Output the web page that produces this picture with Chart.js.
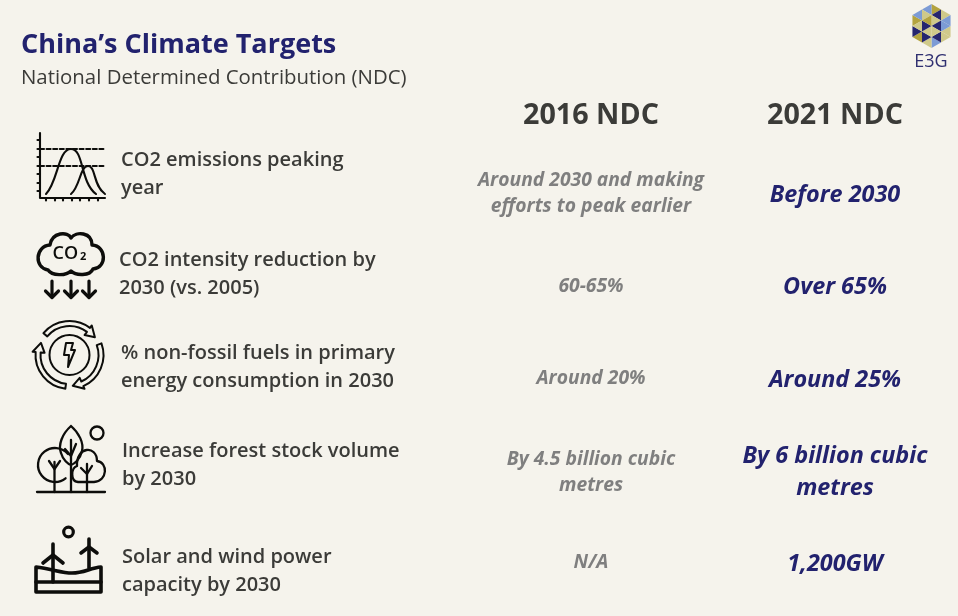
<!DOCTYPE html>
<html>
<head>
<meta charset="utf-8">
<title>China's Climate Targets</title>
<script src="https://cdn.jsdelivr.net/npm/chart.js@4"></script>
<style>
  html, body { margin: 0; padding: 0; background: #f5f3ec; }
  canvas { display: block; }
</style>
</head>
<body>
<canvas id="myChart" width="958" height="616"></canvas>
<script>
const columns = ['', '2016 NDC', '2021 NDC'];
const rows = ['Peak year', 'CO2 intensity', 'Non-fossil share', 'Forest stock', 'Solar and wind'];

const targetLabels = [
    ['CO2 emissions peaking', 'year'],
    ['CO2 intensity reduction by', '2030 (vs. 2005)'],
    ['% non-fossil fuels in primary', 'energy consumption in 2030'],
    ['Increase forest stock volume', 'by 2030'],
    ['Solar and wind power', 'capacity by 2030']
];
const ndc2016 = [
    ['Around 2030 and making', 'efforts to peak earlier'],
    ['60-65%'],
    ['Around 20%'],
    ['By 4.5 billion cubic', 'metres'],
    ['N/A']
];
const ndc2021 = [
    ['Before 2030'],
    ['Over 65%'],
    ['Around 25%'],
    ['By 6 billion cubic', 'metres'],
    ['1,200GW']
];

const FONT = '"Open Sans", "Noto Sans", sans-serif';
const NAVY = '#22226e';
const DARK = '#3b3b38';
const GREY = '#7f7f7f';
const INK = '#0d0d0b';

// small per-row nudges, the slide was not quite on a grid
const targetNudge = [[-226, -19], [-228, -11], [-226, -10], [-225, -4], [-225, 9]];
const nudge2016 = [[0, 1], [0, 1], [0, 1], [0, 3], [0, 1]];
const nudge2021 = [[0, 2], [0, 2], [0, 3], [0, 3], [0, 2]];

function line(ctx, pts) {
    ctx.beginPath();
    ctx.moveTo(pts[0], pts[1]);
    for (let i = 2; i < pts.length; i += 2) ctx.lineTo(pts[i], pts[i + 1]);
    ctx.stroke();
}

function drawPeakIcon(ctx) {
    ctx.lineWidth = 2.1;
    line(ctx, [40, 133, 40, 198, 105, 198]);
    [140, 149, 157, 166, 174, 183, 191].forEach(y => line(ctx, [37.5, y, 40, y]));
    [46, 55, 63, 72, 80, 89, 98].forEach(x => line(ctx, [x, 198, x, 200.5]));
    ctx.setLineDash([4, 2.6]);
    line(ctx, [40, 149, 105, 149]);
    line(ctx, [40, 166, 105, 166]);
    ctx.setLineDash([]);
    ctx.beginPath();
    ctx.moveTo(46, 194);
    ctx.bezierCurveTo(58, 182, 58, 149, 71, 149);
    ctx.bezierCurveTo(84, 149, 80, 182, 96, 194);
    ctx.moveTo(71, 194);
    ctx.bezierCurveTo(80, 187, 80, 166, 88, 166);
    ctx.bezierCurveTo(96, 166, 93, 186, 105, 194);
    ctx.stroke();
}

function drawCloudIcon(ctx) {
    ctx.lineWidth = 3.4;
    ctx.beginPath();
    ctx.moveTo(48, 270);
    ctx.bezierCurveTo(34, 268, 35, 246, 50, 245);
    ctx.bezierCurveTo(52, 232, 68, 231, 71, 238);
    ctx.bezierCurveTo(76, 231, 92, 232, 92, 245);
    ctx.bezierCurveTo(107, 246, 107, 268, 93, 269);
    ctx.bezierCurveTo(90, 276, 76, 276, 71, 271);
    ctx.bezierCurveTo(66, 276, 52, 276, 48, 270);
    ctx.stroke();
    ctx.fillStyle = INK;
    ctx.textAlign = 'left';
    ctx.textBaseline = 'middle';
    ctx.font = '600 18px ' + FONT;
    ctx.fillText('CO', 52.5, 254);
    ctx.font = 'bold 11px ' + FONT;
    ctx.fillText('2', 80, 256.5);
    ctx.lineWidth = 3.2;
    [52, 71, 89].forEach(x => {
        line(ctx, [x, 281, x, 297]);
        line(ctx, [x - 6.5, 291, x, 297.5, x + 6.5, 291]);
    });
}

function arrowBand(ctx, cx, cy, from, to, tipTo) {
    const a = from * Math.PI / 180, b = to * Math.PI / 180, tip = tipTo * Math.PI / 180;
    ctx.beginPath();
    ctx.arc(cx, cy, 34, a, b);
    ctx.lineTo(cx + 37 * Math.cos(b), cy + 37 * Math.sin(b));
    ctx.lineTo(cx + 31 * Math.cos(tip), cy + 31 * Math.sin(tip));
    ctx.lineTo(cx + 25 * Math.cos(b), cy + 25 * Math.sin(b));
    ctx.lineTo(cx + 29 * Math.cos(b), cy + 29 * Math.sin(b));
    ctx.arc(cx, cy, 29, b, a, true);
    ctx.closePath();
    ctx.stroke();
}

function drawEnergyIcon(ctx) {
    const cx = 69.5, cy = 355;
    ctx.lineWidth = 2;
    ctx.beginPath();
    ctx.arc(cx, cy, 20, 0, Math.PI * 2);
    ctx.stroke();
    arrowBand(ctx, cx, cy, -140, -53, -35);
    arrowBand(ctx, cx, cy, -20, 66, 84);
    arrowBand(ctx, cx, cy, 97, 185, 203);
    ctx.beginPath();
    ctx.moveTo(66, 343); ctx.lineTo(73, 343); ctx.lineTo(71, 350); ctx.lineTo(75, 350);
    ctx.lineTo(68, 367); ctx.lineTo(69, 355); ctx.lineTo(64, 355);
    ctx.closePath();
    ctx.stroke();
}

function drawForestIcon(ctx) {
    ctx.lineWidth = 2.3;
    line(ctx, [37, 492, 105, 492]);
    ctx.beginPath();
    ctx.arc(97, 433, 6.5, 0, Math.PI * 2);
    ctx.stroke();
    ctx.beginPath();
    ctx.moveTo(71, 426);
    ctx.bezierCurveTo(62, 434, 58, 445, 61, 453);
    ctx.bezierCurveTo(63, 460, 68, 464, 71, 465);
    ctx.bezierCurveTo(74, 464, 80, 460, 82, 451);
    ctx.bezierCurveTo(84, 443, 79, 433, 71, 426);
    ctx.stroke();
    line(ctx, [71, 440, 71, 492]);
    line(ctx, [65, 449, 71, 456, 76, 444]);
    ctx.beginPath();
    ctx.arc(55, 465, 17, 0.9, Math.PI * 2 - 0.7);
    ctx.stroke();
    line(ctx, [54.5, 462, 54.5, 492]);
    line(ctx, [49, 461, 54.5, 469, 60, 461]);
    ctx.beginPath();
    ctx.moveTo(78, 482);
    ctx.bezierCurveTo(70, 481, 71, 468, 77, 466);
    ctx.bezierCurveTo(76, 446, 97, 445, 97, 461);
    ctx.bezierCurveTo(108, 462, 108, 481, 94, 482);
    ctx.closePath();
    ctx.stroke();
    line(ctx, [87, 464, 87, 492]);
    line(ctx, [81, 468, 87, 474, 92, 466]);
}

function drawWindIcon(ctx) {
    ctx.lineWidth = 3.2;
    ctx.beginPath();
    ctx.arc(68.5, 532, 4.8, 0, Math.PI * 2);
    ctx.stroke();
    ctx.lineWidth = 3.6;
    ctx.beginPath();
    ctx.moveTo(36, 567);
    ctx.bezierCurveTo(52, 569, 62, 573, 72, 573);
    ctx.bezierCurveTo(84, 573, 90, 568, 101, 567);
    ctx.lineTo(101, 592);
    ctx.lineTo(36, 592);
    ctx.closePath();
    ctx.stroke();
    line(ctx, [36, 582, 101, 582]);
    line(ctx, [53, 544, 53, 582]);
    line(ctx, [43, 563, 53, 555, 63, 563]);
    line(ctx, [89, 539, 89, 568]);
    line(ctx, [81, 553, 89, 547, 97, 553]);
}

// logo: hexagon cut in 6 sectors of 4 triangles
const BLU = '#7c9bd5', PAL = '#cfc98a', NVY = '#26266f', OLV = '#b3a33f';
const logoColours = [
    [OLV, PAL, NVY, PAL],
    [BLU, PAL, BLU, NVY],
    [PAL, BLU, NVY, PAL],
    [PAL, OLV, NVY, PAL],
    [NVY, OLV, PAL, NVY],
    [BLU, BLU, PAL, OLV]
];
function tri(ctx, a, b, c, col) {
    ctx.fillStyle = col;
    ctx.beginPath();
    ctx.moveTo(a[0], a[1]); ctx.lineTo(b[0], b[1]); ctx.lineTo(c[0], c[1]);
    ctx.closePath();
    ctx.fill();
}
function drawLogo(ctx) {
    const cx = 931.5, cy = 26, r = 22;
    const mid = (p, q) => [(p[0] + q[0]) / 2, (p[1] + q[1]) / 2];
    for (let k = 0; k < 6; k++) {
        const a1 = (-90 + 60 * k) * Math.PI / 180, a2 = (-30 + 60 * k) * Math.PI / 180;
        const A = [cx + r * Math.cos(a1), cy + r * Math.sin(a1)];
        const B = [cx + r * Math.cos(a2), cy + r * Math.sin(a2)];
        const C = [cx, cy];
        const ab = mid(A, B), ac = mid(A, C), bc = mid(B, C);
        tri(ctx, A, ab, ac, logoColours[k][0]);
        tri(ctx, ab, B, bc, logoColours[k][1]);
        tri(ctx, ab, ac, bc, logoColours[k][2]);
        tri(ctx, ac, bc, C, logoColours[k][3]);
    }
    ctx.fillStyle = '#2f2f70';
    ctx.font = '18px ' + FONT;
    ctx.textAlign = 'center';
    ctx.textBaseline = 'middle';
    ctx.fillText('E3G', 931, 62);
}

function drawLines(ctx, lines, x, y, step) {
    lines.forEach((txt, i) => ctx.fillText(txt, x, y + (i - (lines.length - 1) / 2) * step));
}

const slidePlugin = {
    id: 'slide',
    afterDatasetsDraw(chart) {
        const ctx = chart.ctx;
        const xs = chart.scales.x, ys = chart.scales.y;
        ctx.save();
        ctx.textBaseline = 'middle';

        chart.data.datasets.forEach(ds => {
            ctx.font = ds.textFont;
            ctx.fillStyle = ds.textColour;
            ctx.textAlign = ds.textAlign;
            ds.data.forEach((pt, i) => {
                drawLines(ctx, ds.texts[i],
                    xs.getPixelForValue(columns.indexOf(pt.x)) + ds.nudge[i][0],
                    ys.getPixelForValue(rows.indexOf(pt.y)) + ds.nudge[i][1],
                    ds.lineStep);
            });
        });

        ctx.strokeStyle = INK;
        ctx.lineCap = 'round';
        ctx.lineJoin = 'round';
        drawPeakIcon(ctx);
        drawCloudIcon(ctx);
        drawEnergyIcon(ctx);
        drawForestIcon(ctx);
        drawWindIcon(ctx);
        drawLogo(ctx);
        ctx.restore();
    }
};

function points(col) {
    return rows.map(r => ({ x: col, y: r }));
}

const myChart = new Chart(document.getElementById('myChart'), {
    type: 'line',
    data: {
        datasets: [
            { label: 'Target', data: points(columns[0]), texts: targetLabels, nudge: targetNudge,
              textFont: '600 20px ' + FONT, textColour: DARK, textAlign: 'left', lineStep: 28 },
            { label: columns[1], data: points(columns[1]), texts: ndc2016, nudge: nudge2016,
              textFont: 'italic 700 19.3px ' + FONT, textColour: GREY, textAlign: 'center', lineStep: 26 },
            { label: columns[2], data: points(columns[2]), texts: ndc2021, nudge: nudge2021,
              textFont: 'italic 700 23.4px ' + FONT, textColour: NAVY, textAlign: 'center', lineStep: 32 }
        ]
    },
    options: {
        responsive: false,
        animation: false,
        devicePixelRatio: 1,
        showLine: false,
        pointRadius: 0,
        layout: { padding: { left: 21, right: 1, top: 0, bottom: 8 } },
        plugins: {
            legend: { display: false },
            tooltip: { enabled: false },
            title: {
                display: true,
                text: 'China\u2019s Climate Targets',
                align: 'start',
                color: NAVY,
                font: { family: FONT, size: 27, weight: '700', lineHeight: 1.2 },
                padding: { top: 29, bottom: 5 }
            },
            subtitle: {
                display: true,
                text: 'National Determined Contribution (NDC)',
                align: 'start',
                color: DARK,
                font: { family: FONT, size: 20.4, weight: '400', lineHeight: 1.2 },
                padding: { top: 0, bottom: 0 }
            }
        },
        scales: {
            x: {
                type: 'category',
                position: 'top',
                labels: columns,
                offset: true,
                grid: { display: false },
                border: { display: false },
                ticks: {
                    color: DARK,
                    font: { family: FONT, size: 28.7, weight: '700' },
                    maxRotation: 0,
                    autoSkip: false,
                    padding: 6
                },
                afterFit(scale) { scale.height = 56; }
            },
            y: {
                type: 'category',
                labels: rows,
                offset: true,
                grid: { display: false },
                border: { display: false },
                ticks: { display: false },
                afterFit(scale) { scale.width = 204; }
            }
        }
    },
    plugins: [slidePlugin]
});
</script>
</body>
</html>
